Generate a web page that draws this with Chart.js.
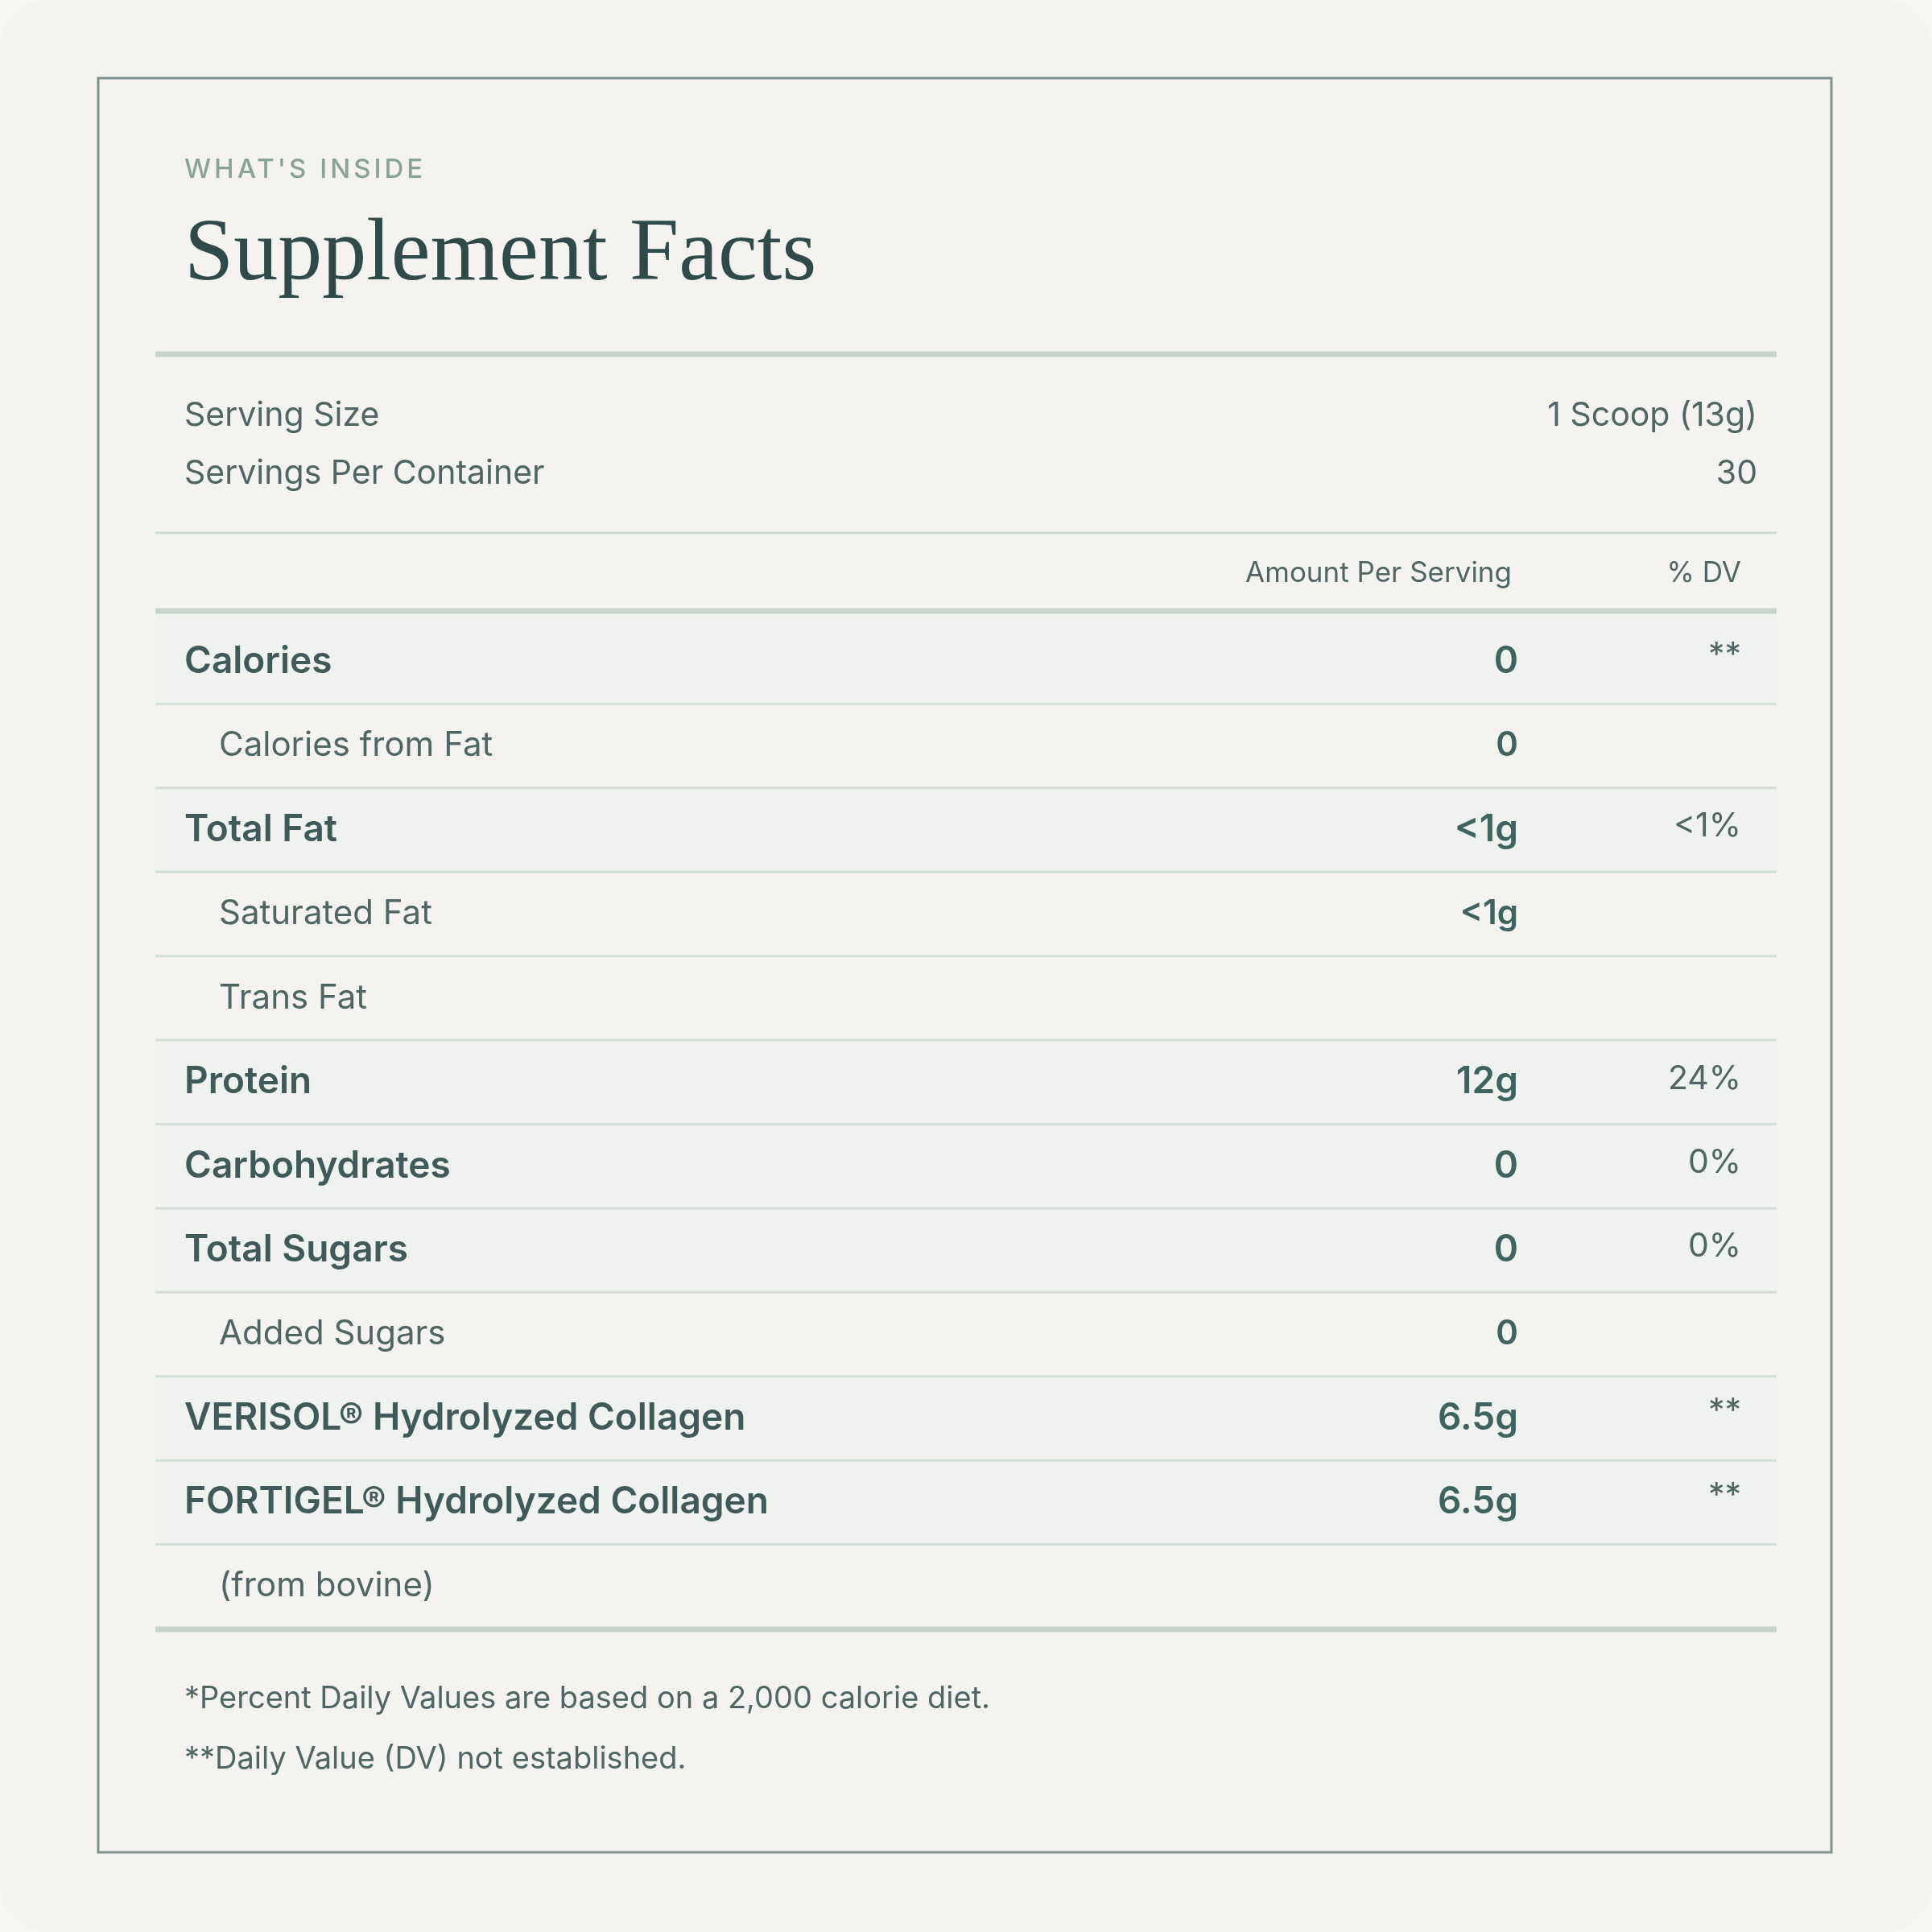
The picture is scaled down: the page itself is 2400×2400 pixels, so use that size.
<!DOCTYPE html>
<html><head><meta charset="utf-8">
<script src="https://cdn.jsdelivr.net/npm/chart.js@4/dist/chart.umd.min.js"></script>
<style>html,body{margin:0;padding:0;background:#f7f6f3}canvas{display:block}</style>
</head><body>
<canvas id="c" width="2400" height="2400"></canvas>
<script>
const eyebrow = "WHAT'S INSIDE";
const title = "Supplement Facts";
const servingLabels = ["Serving Size", "Servings Per Container"];
const servingValues = ["1 Scoop (13g)", "30"];
const columnHeaders = ["Amount Per Serving", "% DV"];
const rowLabels = ["Calories","Calories from Fat","Total Fat","Saturated Fat","Trans Fat","Protein","Carbohydrates","Total Sugars","Added Sugars","VERISOL® Hydrolyzed Collagen","FORTIGEL® Hydrolyzed Collagen","(from bovine)"];
const amounts = ["0","0","<1g","<1g","","12g","0","0","0","6.5g","6.5g",""];
const dailyValues = ["**","","<1%","","","24%","0%","0%","","**","**",""];
const mainRow = [1,0,1,0,0,1,1,1,0,1,1,0];
const footnotes = ["*Percent Daily Values are based on a 2,000 calorie diet.","**Daily Value (DV) not established."];

const SANS = "Inter, Lato, 'Noto Sans', sans-serif";
const SERIF = "'Liberation Serif', 'DejaVu Serif', serif";

const tablePlugin = {
  id: 'table',
  beforeDraw(chart) {
    const ctx = chart.ctx;
    ctx.save();
    ctx.fillStyle = '#f7f6f3'; ctx.fillRect(0,0,2400,2400);
    ctx.fillStyle = '#f5f3f0';
    ctx.beginPath(); ctx.roundRect(0,0,2400,2400,60); ctx.fill();
    ctx.strokeStyle = '#7e928e'; ctx.lineWidth = 3;
    ctx.strokeRect(122,97,2153,2204);
    ctx.fillStyle = '#eff2ee';
    ctx.fillRect(193, 762, 2014, 10);
    ctx.restore();
  },
  afterDraw(chart) {
    const ctx = chart.ctx, y = chart.scales.y, a = chart.chartArea;
    ctx.save();
    ctx.textBaseline = 'middle';
    ctx.fillStyle = '#8aa397'; ctx.font = `500 33px ${SANS}`;
    ctx.letterSpacing = '4px';
    ctx.textAlign = 'left'; ctx.fillText(eyebrow, 229, 211);
    ctx.letterSpacing = '0px';
    ctx.fillStyle = '#2f4a48'; ctx.font = `400 110px ${SERIF}`;
    ctx.fillText(title, 229, 318);
    const hline = (yy, w, c) => { ctx.strokeStyle = c; ctx.lineWidth = w; ctx.beginPath(); ctx.moveTo(a.left, yy); ctx.lineTo(a.right, yy); ctx.stroke(); };
    hline(440, 7, '#c9d5cc');
    ctx.fillStyle = '#4f6664'; ctx.font = `400 41px ${SANS}`;
    servingLabels.forEach((s,i)=>{ ctx.textAlign='left'; ctx.fillText(s, 229, 517+i*72); });
    servingValues.forEach((s,i)=>{ ctx.textAlign='right'; ctx.fillText(s, 2183, 517+i*72); });
    hline(662, 3, '#cfdbd5');
    ctx.font = `400 35px ${SANS}`; ctx.textAlign='right';
    ctx.fillText(columnHeaders[0], 1878, 712);
    ctx.fillText(columnHeaders[1], 2163, 712);
    hline(759, 7, '#c9d5cc');
    const step = y.getPixelForValue(1) - y.getPixelForValue(0);
    rowLabels.forEach((lab,i)=>{
      const cy = y.getPixelForValue(i);
      if (i < rowLabels.length-1) hline(cy + step/2, 3, '#d3ddd7');
      const bold = mainRow[i] === 1;
      ctx.textAlign='left';
      ctx.fillStyle = bold ? '#3f5a58' : '#4f6664';
      ctx.font = bold ? `600 46px ${SANS}` : `400 42px ${SANS}`;
      ctx.fillText(lab, bold ? 229 : 272, cy);
      ctx.textAlign='right';
      ctx.fillStyle = '#3f6460';
      ctx.font = bold ? `600 46px ${SANS}` : `600 42px ${SANS}`;
      ctx.fillText(amounts[i], 1886, cy);
      ctx.fillStyle = '#4f6664'; ctx.font = `400 41px ${SANS}`;
      ctx.fillText(dailyValues[i], 2163, dailyValues[i]==='**' ? cy-8 : cy-4);
    });
    hline(2024, 7, '#c9d5cc');
    ctx.textAlign='left'; ctx.fillStyle='#4f6664'; ctx.font = `400 38px ${SANS}`;
    footnotes.forEach((f,i)=> ctx.fillText(f, 229, 2111 + i*75));
    ctx.restore();
  }
};

new Chart(document.getElementById('c'), {
  type: 'bar',
  data: {
    labels: rowLabels,
    datasets: [{
      data: mainRow.map(m => m ? [0,1] : null),
      backgroundColor: '#eff2ee',
      borderWidth: 0,
      barPercentage: 1, categoryPercentage: 1
    }]
  },
  options: {
    indexAxis: 'y',
    responsive: false, animation: false, devicePixelRatio: 1,
    layout: { padding: { left: 193, right: 193, top: 770, bottom: 377 } },
    plugins: { legend: { display: false }, tooltip: { enabled: false } },
    scales: {
      x: { display: false, min: 0, max: 1 },
      y: { display: false, offset: true }
    }
  },
  plugins: [tablePlugin]
});
</script>
</body></html>
